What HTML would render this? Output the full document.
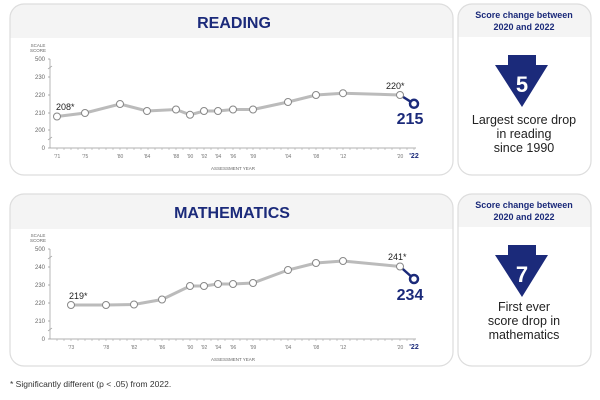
<!DOCTYPE html>
<html><head><style>
body{margin:0;background:#fff;}
svg{display:block;font-family:"Liberation Sans",sans-serif;}
</style></head><body>
<svg width="600" height="400" viewBox="0 0 600 400">
<defs>
<clipPath id="c1"><rect x="10" y="4" width="443" height="171" rx="14"/></clipPath>
<clipPath id="c2"><rect x="458" y="4" width="133" height="171" rx="14"/></clipPath>
<clipPath id="c3"><rect x="10" y="194" width="443" height="172" rx="14"/></clipPath>
<clipPath id="c4"><rect x="458" y="194" width="133" height="172" rx="14"/></clipPath>
</defs>
<g clip-path="url(#c1)"><rect x="10" y="4" width="443" height="34" fill="#f4f4f4"/></g>
<rect x="10" y="4" width="443" height="171" rx="14" fill="none" stroke="#ddd" stroke-width="1.2"/>
<g clip-path="url(#c2)"><rect x="458" y="4" width="133" height="33" fill="#f4f4f4"/></g>
<rect x="458" y="4" width="133" height="171" rx="14" fill="none" stroke="#ddd" stroke-width="1.2"/>
<g clip-path="url(#c3)"><rect x="10" y="194" width="443" height="35" fill="#f4f4f4"/></g>
<rect x="10" y="194" width="443" height="172" rx="14" fill="none" stroke="#ddd" stroke-width="1.2"/>
<g clip-path="url(#c4)"><rect x="458" y="194" width="133" height="33" fill="#f4f4f4"/></g>
<rect x="458" y="194" width="133" height="172" rx="14" fill="none" stroke="#ddd" stroke-width="1.2"/>

<text x="234" y="28" text-anchor="middle" font-size="16" font-weight="bold" fill="#1b2a7a">READING</text>
<text x="232" y="218" text-anchor="middle" font-size="16" font-weight="bold" fill="#1b2a7a">MATHEMATICS</text>

<g font-size="9" font-weight="bold" fill="#1b2a7a" text-anchor="middle">
<text x="524" y="18">Score change between</text><text x="524" y="30">2020 and 2022</text>
<text x="524" y="208">Score change between</text><text x="524" y="220">2020 and 2022</text>
</g>
<path d="M508 55H536V65H548L522 107L495 65H508Z" fill="#1b2a7a"/>
<text x="522" y="92" text-anchor="middle" font-size="22" font-weight="bold" fill="#fff">5</text>
<g font-size="12.5" fill="#222" text-anchor="middle"><text x="524" y="124">Largest score drop</text><text x="524" y="138">in reading</text><text x="524" y="152">since 1990</text></g>
<path d="M508 245H536V255H548L522 297L495 255H508Z" fill="#1b2a7a"/>
<text x="522" y="282" text-anchor="middle" font-size="22" font-weight="bold" fill="#fff">7</text>
<g font-size="12.5" fill="#222" text-anchor="middle"><text x="524" y="311">First ever</text><text x="524" y="325">score drop in</text><text x="524" y="339">mathematics</text></g>

<!-- Reading axes -->
<g font-size="6" fill="#666">
<text x="38" y="47" text-anchor="middle" font-size="4.5">SCALE</text><text x="38" y="52" text-anchor="middle" font-size="4.5">SCORE</text>
<line x1="50" y1="59" x2="50" y2="148" stroke="#999" stroke-width="0.7"/>
<line x1="50" y1="148" x2="416" y2="148" stroke="#999" stroke-width="0.7"/>
<line x1="48" y1="69" x2="52" y2="66" stroke="#999" stroke-width="0.7"/>
<line x1="48" y1="140" x2="52" y2="137" stroke="#999" stroke-width="0.7"/>
<path d="M50 59h-2M50 77h-2M50 95h-2M50 113h-2M50 130h-2M50 148h-2" stroke="#999" stroke-width="0.7"/>
<g text-anchor="end"><text x="45" y="61">500</text><text x="45" y="79">230</text><text x="45" y="97">220</text><text x="45" y="115">210</text><text x="45" y="132">200</text><text x="45" y="150">0</text></g>
<text x="233" y="170" text-anchor="middle" font-size="4.5">ASSESSMENT YEAR</text>
<path d="M57 148v2M64 148v2M71 148v2M78 148v2M85 148v2M92 148v2M99 148v2M106 148v2M113 148v2M120 148v2M127 148v2M134 148v2M141 148v2M148 148v2M155 148v2M162 148v2M169 148v2M176 148v2M183 148v2M190 148v2M197 148v2M204 148v2M211 148v2M218 148v2M225 148v2M233 148v2M240 148v2M247 148v2M253 148v2M260 148v2M267 148v2M274 148v2M281 148v2M288 148v2M295 148v2M302 148v2M309 148v2M316 148v2M323 148v2M330 148v2M337 148v2M343 148v2M350 148v2M357 148v2M364 148v2M371 148v2M378 148v2M385 148v2M392 148v2M400 148v2M407 148v2M414 148v2" stroke="#aaa" stroke-width="0.6"/>
</g>
<g font-size="5" fill="#777" text-anchor="middle">
<text x="57" y="158">'71</text><text x="85" y="158">'75</text><text x="120" y="158">'80</text><text x="147" y="158">'84</text><text x="176" y="158">'88</text><text x="190" y="158">'90</text><text x="204" y="158">'92</text><text x="218" y="158">'94</text><text x="233" y="158">'96</text><text x="253" y="158">'99</text><text x="288" y="158">'04</text><text x="316" y="158">'08</text><text x="343" y="158">'12</text><text x="400" y="158">'20</text>
<text x="414" y="158" font-size="7" font-weight="bold" fill="#1b2a7a">'22</text>
</g>
<polyline fill="none" stroke="#bbb" stroke-width="3" points="57,116.5 85,113 120,104 147,111 176,109.5 190,114.8 204,111 218,111 233,109.5 253,109.5 288,102 316,95 343,93.2 400,95"/>
<line x1="400" y1="95" x2="414" y2="103.8" stroke="#1b2a7a" stroke-width="2.5"/>
<g fill="#fff" stroke="#888" stroke-width="1"><circle cx="57" cy="116.5" r="3.5"/><circle cx="85" cy="113" r="3.5"/><circle cx="120" cy="104" r="3.5"/><circle cx="147" cy="111" r="3.5"/><circle cx="176" cy="109.5" r="3.5"/><circle cx="190" cy="114.8" r="3.5"/><circle cx="204" cy="111" r="3.5"/><circle cx="218" cy="111" r="3.5"/><circle cx="233" cy="109.5" r="3.5"/><circle cx="253" cy="109.5" r="3.5"/><circle cx="288" cy="102" r="3.5"/><circle cx="316" cy="95" r="3.5"/><circle cx="343" cy="93.2" r="3.5"/><circle cx="400" cy="95" r="3.5"/></g>
<circle cx="414" cy="103.8" r="4" fill="#fff" stroke="#1b2a7a" stroke-width="2.5"/>
<text x="56" y="110" font-size="9" fill="#222">208*</text>
<text x="386" y="89" font-size="9" fill="#222">220*</text>
<text x="410" y="124" text-anchor="middle" font-size="16" font-weight="bold" fill="#1b2a7a">215</text>

<!-- Math axes -->
<g font-size="6" fill="#666">
<text x="38" y="237" text-anchor="middle" font-size="4.5">SCALE</text><text x="38" y="242" text-anchor="middle" font-size="4.5">SCORE</text>
<line x1="50" y1="249" x2="50" y2="339" stroke="#999" stroke-width="0.7"/>
<line x1="50" y1="339" x2="416" y2="339" stroke="#999" stroke-width="0.7"/>
<line x1="48" y1="259" x2="52" y2="256" stroke="#999" stroke-width="0.7"/>
<line x1="48" y1="331" x2="52" y2="328" stroke="#999" stroke-width="0.7"/>
<path d="M50 249h-2M50 267h-2M50 285h-2M50 303h-2M50 321h-2M50 339h-2" stroke="#999" stroke-width="0.7"/>
<g text-anchor="end"><text x="45" y="251">500</text><text x="45" y="269">240</text><text x="45" y="287">230</text><text x="45" y="305">220</text><text x="45" y="323">210</text><text x="45" y="341">0</text></g>
<text x="233" y="361" text-anchor="middle" font-size="4.5">ASSESSMENT YEAR</text>
<path d="M57 339v2M64 339v2M71 339v2M78 339v2M85 339v2M92 339v2M99 339v2M106 339v2M113 339v2M120 339v2M127 339v2M134 339v2M141 339v2M148 339v2M155 339v2M162 339v2M169 339v2M176 339v2M183 339v2M190 339v2M197 339v2M204 339v2M211 339v2M218 339v2M225 339v2M233 339v2M240 339v2M247 339v2M253 339v2M260 339v2M267 339v2M274 339v2M281 339v2M288 339v2M295 339v2M302 339v2M309 339v2M316 339v2M323 339v2M330 339v2M337 339v2M343 339v2M350 339v2M357 339v2M364 339v2M371 339v2M378 339v2M385 339v2M392 339v2M400 339v2M407 339v2M414 339v2" stroke="#aaa" stroke-width="0.6"/>
</g>
<g font-size="5" fill="#777" text-anchor="middle">
<text x="71" y="349">'73</text><text x="106" y="349">'78</text><text x="134" y="349">'82</text><text x="162" y="349">'86</text><text x="190" y="349">'90</text><text x="204" y="349">'92</text><text x="218" y="349">'94</text><text x="233" y="349">'96</text><text x="253" y="349">'99</text><text x="288" y="349">'04</text><text x="316" y="349">'08</text><text x="343" y="349">'12</text><text x="400" y="349">'20</text>
<text x="414" y="349" font-size="7" font-weight="bold" fill="#1b2a7a">'22</text>
</g>
<polyline fill="none" stroke="#bbb" stroke-width="3" points="71,305 106,305 134,304.5 162,299.5 190,286 204,286 218,284 233,284 253,283 288,270 316,263 343,261 400,266.5"/>
<line x1="400" y1="266.5" x2="414" y2="279" stroke="#1b2a7a" stroke-width="2.5"/>
<g fill="#fff" stroke="#888" stroke-width="1"><circle cx="71" cy="305" r="3.5"/><circle cx="106" cy="305" r="3.5"/><circle cx="134" cy="304.5" r="3.5"/><circle cx="162" cy="299.5" r="3.5"/><circle cx="190" cy="286" r="3.5"/><circle cx="204" cy="286" r="3.5"/><circle cx="218" cy="284" r="3.5"/><circle cx="233" cy="284" r="3.5"/><circle cx="253" cy="283" r="3.5"/><circle cx="288" cy="270" r="3.5"/><circle cx="316" cy="263" r="3.5"/><circle cx="343" cy="261" r="3.5"/><circle cx="400" cy="266.5" r="3.5"/></g>
<circle cx="414" cy="279" r="4" fill="#fff" stroke="#1b2a7a" stroke-width="2.5"/>
<text x="69" y="299" font-size="9" fill="#222">219*</text>
<text x="388" y="260" font-size="9" fill="#222">241*</text>
<text x="410" y="300" text-anchor="middle" font-size="16" font-weight="bold" fill="#1b2a7a">234</text>

<text x="10" y="387" font-size="8.5" fill="#333">* Significantly different (p &lt; .05) from 2022.</text>
</svg>
</body></html>
